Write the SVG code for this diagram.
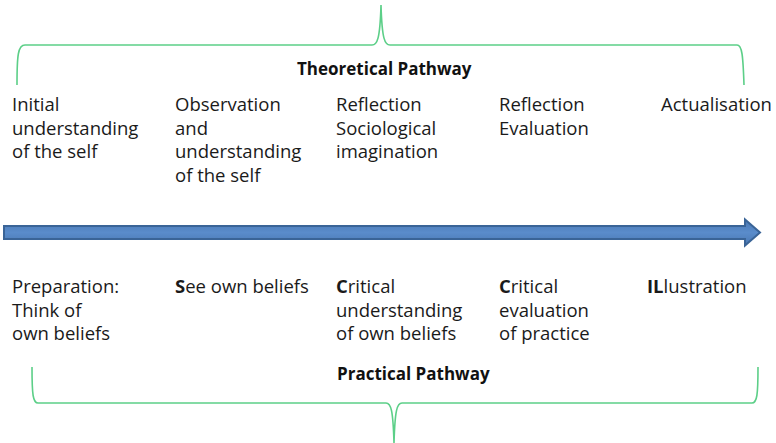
<svg xmlns="http://www.w3.org/2000/svg" width="776" height="443" viewBox="0 0 776 443">
<style>
.t{font-family:"Open Sans","Liberation Sans",sans-serif;font-size:18.5px;fill:#1a1a1a}
.h{font-family:"Open Sans","Liberation Sans",sans-serif;font-size:17px;font-weight:bold;fill:#111}
.b{font-weight:bold}
.brace{fill:none;stroke:#5ccf88;stroke-width:1.6}
</style>
<defs>
<linearGradient id="ag" x1="0" y1="0" x2="0" y2="1">
<stop offset="0" stop-color="#4a78b2"/>
<stop offset="0.5" stop-color="#5a8ccb"/>
<stop offset="1" stop-color="#4a78b2"/>
</linearGradient>
</defs>
<g id="connectors">
<path class="brace" d="M17,85 C17,55 18,45 25,45 L372,45 C377,45 380,40 381,5 C382,40 385,45 390,45 L737,45 C742,45 743,55 744,85"/>
<path class="brace" d="M32,367 C32,395 33,403 38,403 L386,403 C391,403 393,410 394,443 C395,410 397,403 402,403 L752,403 C757,403 758,395 758,367"/>
<polygon points="4,226 745,226 745,219.5 760,232.5 745,245.5 745,239 4,239" fill="url(#ag)" stroke="#3a6497" stroke-width="2"/>
</g>
<g id="title-theory"><text class="h" x="297" y="75">Theoretical Pathway</text></g>
<g id="title-practice"><text class="h" x="337" y="380">Practical Pathway</text></g>
<g id="t1"><text class="t" x="12" y="111">Initial<tspan x="12" y="134.5">understanding</tspan><tspan x="12" y="158">of the self</tspan></text></g>
<g id="t2"><text class="t" x="175" y="111">Observation<tspan x="175" y="134.5">and</tspan><tspan x="175" y="158">understanding</tspan><tspan x="175" y="181.5">of the self</tspan></text></g>
<g id="t3"><text class="t" x="336" y="111">Reflection<tspan x="336" y="134.5">Sociological</tspan><tspan x="336" y="158">imagination</tspan></text></g>
<g id="t4"><text class="t" x="499" y="111">Reflection<tspan x="499" y="134.5">Evaluation</tspan></text></g>
<g id="t5"><text class="t" x="661" y="111">Actualisation</text></g>
<g id="p1"><text class="t" x="12" y="293">Preparation:<tspan x="12" y="316.5">Think of</tspan><tspan x="12" y="340">own beliefs</tspan></text></g>
<g id="p2"><text class="t" x="175" y="293"><tspan class="b">S</tspan>ee own beliefs</text></g>
<g id="p3"><text class="t" x="336" y="293"><tspan class="b">C</tspan>ritical<tspan x="336" y="316.5">understanding</tspan><tspan x="336" y="340">of own beliefs</tspan></text></g>
<g id="p4"><text class="t" x="499" y="293"><tspan class="b">C</tspan>ritical<tspan x="499" y="316.5">evaluation</tspan><tspan x="499" y="340">of practice</tspan></text></g>
<g id="p5"><text class="t" x="647" y="293"><tspan class="b">IL</tspan>lustration</text></g>
</svg>
